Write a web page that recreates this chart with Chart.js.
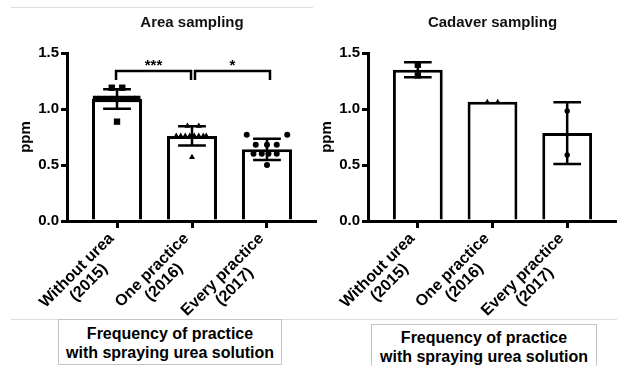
<!DOCTYPE html>
<html>
<head>
<meta charset="utf-8">
<script src="https://cdn.jsdelivr.net/npm/chart.js@4.4.0/dist/chart.umd.min.js"></script>
<style>
  body { margin: 0; background: #fff; width: 617px; height: 366px; position: relative; overflow: hidden; }
  canvas { position: absolute; top: 0; }
  .rule { position: absolute; height: 0; border-top: 1px solid #dcdcdc; }
  .box {
    position: absolute; box-sizing: border-box; border: 1px solid #c4c4c4;
    font: bold 16px "Liberation Sans", Arial, sans-serif; line-height: 19px;
    text-align: center; color: #000;
  }
</style>
</head>
<body>
<div class="rule" style="left:11px; top:7px; width:302px;"></div>
<div class="rule" style="left:11px; top:319px; width:606px;"></div>
<div class="box" style="left:58px; top:319px; width:224px; height:46px; padding-top:4px;">Frequency of practice<br>with spraying urea solution</div>
<div class="box" style="left:371px; top:324px; width:226px; height:50px; padding-top:3px;">Frequency of practice<br>with spraying urea solution</div>

<canvas id="areaChart" width="317" height="320" style="left:0;"></canvas>
<canvas id="cadaverChart" width="316" height="320" style="left:301px;"></canvas>

<script>
// Categories (x tick labels, two lines each)
const categories = [
  ["Without urea", "(2015)"],
  ["One practice", "(2016)"],
  ["Every practice", "(2017)"]
];

// Area sampling: bar means and SD
const areaMeans = [1.09, 0.76, 0.64];
const areaSD = [0.087, 0.085, 0.095];

// Area sampling: individual values and their horizontal spread (category units)
const areaWithoutUrea = [1.19, 1.19, 1.09, 1.09, 1.09, 1.09, 1.09, 1.09, 1.09, 1.09, 0.887];
const areaWithoutUreaSpread = [-0.07, 0.07, -0.28, -0.2, -0.12, -0.04, 0.04, 0.12, 0.2, 0.27, 0];
const areaOnePractice = [0.848, 0.848, 0.76, 0.76, 0.76, 0.76, 0.76, 0.76, 0.76, 0.76, 0.569];
const areaOnePracticeSpread = [-0.06, 0.09, -0.21, -0.15, -0.09, -0.03, 0.03, 0.09, 0.15, 0.19, 0];
const areaEveryPractice = [0.77, 0.77, 0.68, 0.68, 0.68, 0.6, 0.6, 0.6, 0.6, 0.5];
const areaEveryPracticeSpread = [-0.27, 0.27, -0.15, 0, 0.13, -0.18, -0.07, 0.02, 0.13, 0];

// Cadaver sampling
const cadaverMeans = [1.35, 1.065, 0.785];
const cadaverSD = [0.067, 0, 0.275];
const cadaverWithoutUrea = [1.395, 1.3];
const cadaverWithoutUreaSpread = [0, 0];
const cadaverOnePractice = [1.065, 1.065];
const cadaverOnePracticeSpread = [-0.07, 0.07];
const cadaverEveryPractice = [0.982, 0.589];
const cadaverEveryPracticeSpread = [0, 0];

// Significance brackets (area sampling only)
const areaBrackets = [
  { from: -0.013, to: 0.987, text: "***" },
  { from: 1.04, to: 2.04, text: "*" }
];
const bracketLevel = 1.34;
const bracketDrop = 1.26;

const yTicks = [0, 0.5, 1.0, 1.5];
const markerStyles = ["rect", "triangle", "circle"];

const FONT = '"Liberation Sans", Arial, sans-serif';
Chart.defaults.font.family = FONT;
Chart.defaults.color = "#000";

const errorBarPlugin = {
  id: "errorBars",
  afterDatasetsDraw(chart) {
    const ds = chart.data.datasets[0];
    const meta = chart.getDatasetMeta(0);
    const x = chart.scales.x, y = chart.scales.y, ctx = chart.ctx;
    const half = (x.getPixelForValue(0.185) - x.getPixelForValue(0));
    ctx.save();
    ctx.strokeStyle = "#000";
    ctx.lineWidth = 2.5;
    meta.data.forEach((bar, i) => {
      const m = ds.data[i].y, e = ds.sd[i];
      if (!e) return; // no spread, nothing to draw
      const top = y.getPixelForValue(m + e), bot = y.getPixelForValue(m - e);
      ctx.beginPath();
      ctx.moveTo(bar.x, top); ctx.lineTo(bar.x, bot);
      ctx.moveTo(bar.x - half, top); ctx.lineTo(bar.x + half, top);
      ctx.moveTo(bar.x - half, bot); ctx.lineTo(bar.x + half, bot);
      ctx.stroke();
    });
    ctx.restore();
  }
};

const bracketPlugin = {
  id: "brackets",
  afterDraw(chart, args, opts) {
    const items = opts.items || [];
    const x = chart.scales.x, y = chart.scales.y, ctx = chart.ctx;
    ctx.save();
    ctx.strokeStyle = "#000";
    ctx.lineWidth = 2.5;
    ctx.fillStyle = "#000";
    ctx.font = "bold 15px " + FONT;
    ctx.textAlign = "center";
    ctx.textBaseline = "alphabetic";
    items.forEach(b => {
      const x1 = x.getPixelForValue(b.from), x2 = x.getPixelForValue(b.to);
      const yl = y.getPixelForValue(bracketLevel), yd = y.getPixelForValue(bracketDrop);
      ctx.beginPath();
      ctx.moveTo(x1, yd); ctx.lineTo(x1, yl); ctx.lineTo(x2, yl); ctx.lineTo(x2, yd);
      ctx.stroke();
      ctx.fillText(b.text, (x1 + x2) / 2, yl - 1);
    });
    ctx.restore();
  }
};

// Tilted two-line category labels, lines centred on each other
const tickLabelPlugin = {
  id: "tiltedLabels",
  afterDraw(chart) {
    const xs = chart.scales.x, ctx = chart.ctx;
    ctx.save();
    ctx.font = "bold 16px " + FONT;
    ctx.fillStyle = "#000";
    ctx.textAlign = "center";
    ctx.textBaseline = "middle";
    categories.forEach((lines, i) => {
      const w = Math.max(...lines.map(l => ctx.measureText(l).width));
      ctx.save();
      ctx.translate(xs.getPixelForValue(i), xs.top + 8);
      ctx.rotate(-Math.PI / 4);
      lines.forEach((l, k) => ctx.fillText(l, -9 - w / 2, k * 17 + 1));
      ctx.restore();
    });
    ctx.restore();
  }
};

function buildChart(id, title, means, sd, groups, spreads, radii, brackets) {
  const pointSets = groups.map((vals, i) => ({
    type: "scatter",
    order: 1,
    data: vals.map((v, k) => ({ x: i + spreads[i][k], y: v })),
    pointStyle: markerStyles[i],
    pointRadius: radii[i],
    backgroundColor: "#000",
    borderColor: "#000",
    borderWidth: 0
  }));

  return new Chart(document.getElementById(id), {
    type: "bar",
    data: {
      datasets: [{
        order: 2,
        data: means.map((m, i) => ({ x: i, y: m })),
        sd: sd,
        backgroundColor: "#fff",
        borderColor: "#000",
        borderWidth: 3,
        barPercentage: 1,
        categoryPercentage: 0.667
      }, ...pointSets]
    },
    options: {
      responsive: false,
      animation: false,
      devicePixelRatio: 1,
      layout: { padding: 0, autoPadding: false },
      plugins: {
        legend: { display: false },
        tooltip: { enabled: false },
        title: {
          display: true, text: title, fullSize: false, color: "#111",
          font: { size: 15, weight: "bold" },
          padding: { top: 14, bottom: 21 }
        },
        brackets: { items: brackets }
      },
      scales: {
        x: {
          type: "linear", min: -0.667, max: 2.667, offset: false,
          afterBuildTicks: s => { s.ticks = categories.map((c, i) => ({ value: i })); },
          ticks: { display: false },
          grid: { offset: false, drawOnChartArea: false, tickLength: 7, lineWidth: 3, color: "#000" },
          border: { color: "#000", width: 3 },
          afterFit: s => { s.height = 99; }
        },
        y: {
          min: 0, max: 1.5,
          afterBuildTicks: s => { s.ticks = yTicks.map(v => ({ value: v })); },
          ticks: { callback: v => v.toFixed(1), font: { size: 15, weight: "bold" }, color: "#000", padding: 2 },
          grid: { drawOnChartArea: false, tickLength: 6, lineWidth: 3, color: "#000" },
          border: { color: "#000", width: 3 },
          title: { display: true, text: "ppm", color: "#000", font: { size: 15, weight: "bold" }, padding: { top: 17, bottom: 0 } },
          afterFit: s => { s.width = 67; }
        }
      }
    },
    plugins: [errorBarPlugin, bracketPlugin, tickLabelPlugin]
  });
}

buildChart("areaChart", "Area sampling", areaMeans, areaSD,
  [areaWithoutUrea, areaOnePractice, areaEveryPractice],
  [areaWithoutUreaSpread, areaOnePracticeSpread, areaEveryPracticeSpread],
  [4.5, 3.5, 3], areaBrackets);

buildChart("cadaverChart", "Cadaver sampling", cadaverMeans, cadaverSD,
  [cadaverWithoutUrea, cadaverOnePractice, cadaverEveryPractice],
  [cadaverWithoutUreaSpread, cadaverOnePracticeSpread, cadaverEveryPracticeSpread],
  [4.5, 3, 2.7], []);
</script>
</body>
</html>
